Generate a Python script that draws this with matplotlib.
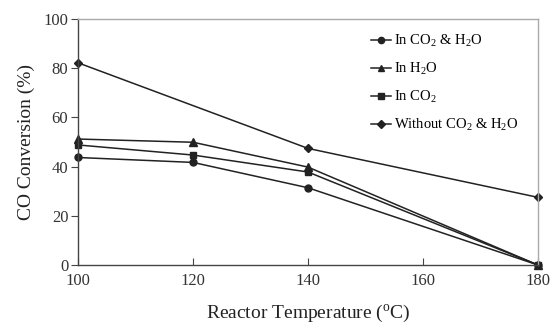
import matplotlib
matplotlib.use("Agg")
import matplotlib.pyplot as plt

plt.rcParams['font.family'] = ['Liberation Serif', 'DejaVu Serif']
plt.rcParams['mathtext.fontset'] = 'custom'
plt.rcParams['mathtext.rm'] = 'Liberation Serif'
plt.rcParams['mathtext.it'] = 'Liberation Serif:italic'

temps = [100, 120, 140, 180]
temps_without = [100, 140, 180]
co2_h2o = [43.7, 41.7, 31.4, 0]
h2o = [51.2, 49.9, 39.8, 0]
co2 = [48.8, 44.7, 37.8, 0]
without = [82.2, 47.4, 27.5]

labels = ["In CO$_2$ & H$_2$O", "In H$_2$O", "In CO$_2$", "Without CO$_2$ & H$_2$O"]
xticks = [100, 120, 140, 160, 180]
yticks = [0, 20, 40, 60, 80, 100]

fig = plt.figure(figsize=(5.54, 3.31), dpi=100)
ax = fig.add_axes([0.1408, 0.1994, 0.8302, 0.7432])

col = '#222222'
ax.plot(temps, co2_h2o, color=col, lw=1.1, marker='o', ms=5, label=labels[0], clip_on=False)
ax.plot(temps, h2o, color=col, lw=1.1, marker='^', ms=5.5, label=labels[1], clip_on=False)
ax.plot(temps, co2, color=col, lw=1.1, marker='s', ms=5, label=labels[2], clip_on=False)
ax.plot(temps_without, without, color=col, lw=1.1, marker='D', ms=4.5, label=labels[3], clip_on=False)

ax.set_xlim(100, 180)
ax.set_ylim(0, 100)
ax.set_xticks(xticks)
ax.set_yticks(yticks)
ax.tick_params(axis='x', direction='in', length=5, labelsize=12, pad=6, color='#444444')
ax.tick_params(axis='y', direction='out', length=5, labelsize=12, pad=2, color='#444444')
for s in ['left', 'bottom']:
    ax.spines[s].set_color('#444444')
    ax.spines[s].set_linewidth(1.0)
for s in ['top', 'right']:
    ax.spines[s].set_color('#aaaaaa')
    ax.spines[s].set_linewidth(1.0)
for t in ax.get_xticklabels() + ax.get_yticklabels():
    t.set_color('#333333')

ax.set_xlabel("Reactor Temperature ($^{\\rm o}$C)", fontsize=14, color='#222222', labelpad=10)
ax.set_ylabel("CO Conversion (%)", fontsize=14, color='#222222', labelpad=6)

leg = ax.legend(loc='upper left', bbox_to_anchor=(0.637, 0.943), frameon=False, fontsize=10.5,
                handlelength=1.4, handletextpad=0.2, labelspacing=0.81, borderaxespad=0.0,
                borderpad=0.0, markerscale=0.9)

fig.savefig("out.png", dpi=100)
